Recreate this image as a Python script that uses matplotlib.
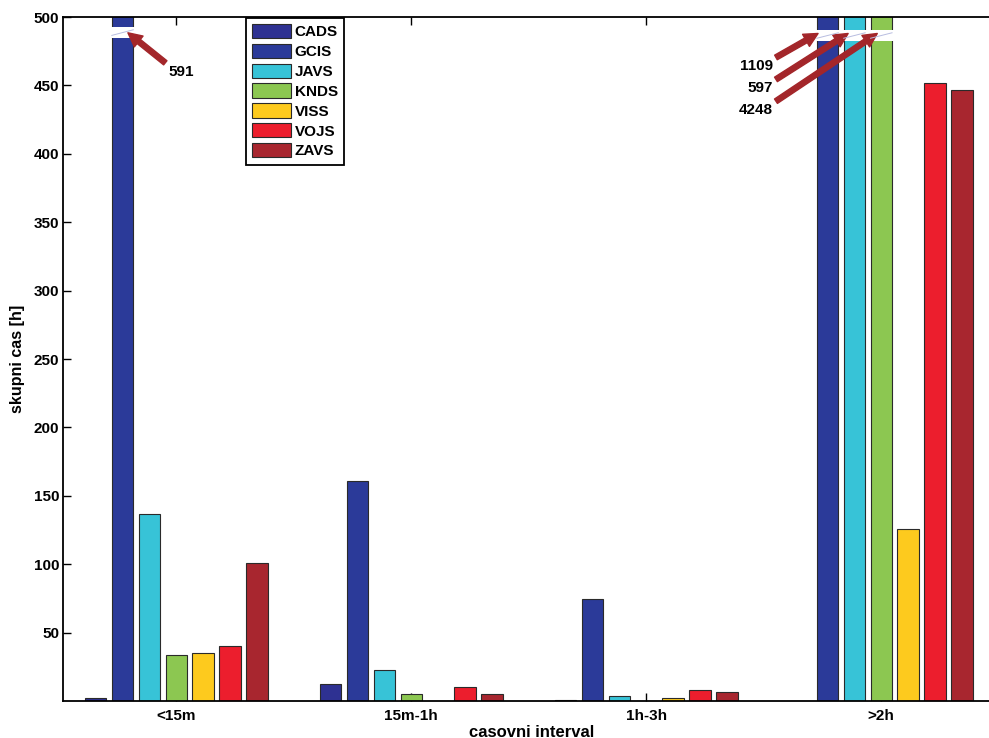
import numpy as np
import matplotlib.pyplot as plt
from matplotlib.patches import Rectangle

plt.rcParams['font.family'] = ['Liberation Sans', 'DejaVu Sans']
plt.rcParams['font.weight'] = 'bold'

groups = ['<15m', '15m-1h', '1h-3h', '>2h']
series = ['CADS', 'GCIS', 'JAVS', 'KNDS', 'VISS', 'VOJS', 'ZAVS']
colors = ['#2E3192', '#2B3A99', '#37C3D7', '#8CC751', '#FDCA1E', '#EC1E2D', '#A8262F']

# skupni cas [h] per group, one list per system
cads = [2.4, 12.8, 1.0, 0]
gcis = [591, 160.5, 74.5, 1109]
javs = [137, 23, 3.6, 597]
knds = [33.4, 5, 0, 4248]
viss = [35, 0, 2.0, 125.5]
vojs = [40, 10, 8, 451.5]
zavs = [100.8, 5.5, 6.3, 446.5]
values = [cads, gcis, javs, knds, viss, vojs, zavs]

ymax = 500
arrow_c = '#A3262A'

fig = plt.figure(figsize=(9.89, 7.38), dpi=100)
ax = fig.add_axes([0.0642, 0.0501, 0.9457, 0.9268])

x = np.arange(1, len(groups) + 1)
n = len(series)
step = 0.8 / n
width = 0.8 * step
for i, (name, vals, col) in enumerate(zip(series, values, colors)):
    off = (i - (n - 1) / 2) * step
    ax.bar(x + off, vals, width, color=col, edgecolor='#2a2a2a',
           linewidth=0.8, label=name, zorder=2)
    # break marks for bars that go off the chart
    for xi, v in zip(x, vals):
        if v > ymax:
            lo, hi = (484.6, 492.7) if xi == 1 else (482.5, 490.5)
            ax.add_patch(Rectangle((xi + off - width * 0.6, lo), width * 1.2, hi - lo,
                                   facecolor='white', edgecolor='none', zorder=3))
            ax.plot([xi + off - width / 2, xi + off + width / 2],
                    [lo + 2.0, hi - 2.0], color='#b8bde0', lw=0.7, zorder=4)

ax.set_xlim(0.52, 4.5)
ax.set_ylim(0, ymax)
ax.set_xticks(x)
ax.set_xticklabels(groups)
ax.set_yticks(np.arange(50, 501, 50))
ax.tick_params(direction='in', top=True, right=True, length=6, width=1,
               labelsize=11)
ax.tick_params(axis='x', pad=6)
ax.tick_params(axis='y', pad=3)
for sp in ax.spines.values():
    sp.set_linewidth(1.3)

ax.set_xlabel('casovni interval', fontsize=12, fontweight='bold', labelpad=1)
ax.set_ylabel('skupni cas [h]', fontsize=11.5, fontweight='bold', labelpad=6)

aprops = dict(facecolor=arrow_c, edgecolor=arrow_c, width=3.8, headwidth=10,
              headlength=10, shrink=0)
ax.annotate('591', xy=(0.794, 488.5), xytext=(0.965, 459.8), fontsize=11,
            fontweight='bold', ha='left', va='center', arrowprops=aprops)
labels_r = ['1109', '597', '4248']
heads_r = [3.731, 3.859, 3.983]
texts_y = [464.2, 448.0, 432.0]
for lab, hx, ty in zip(labels_r, heads_r, texts_y):
    ax.annotate(lab, xy=(hx, 488.0), xytext=(3.54, ty), fontsize=11,
                fontweight='bold', ha='right', va='center', arrowprops=aprops)

leg = ax.legend(loc='upper left', bbox_to_anchor=(0.195, 0.999), borderaxespad=0,
                fontsize=11, handlelength=2.55, handleheight=1.05,
                handletextpad=0.25, labelspacing=0.3, borderpad=0.4,
                fancybox=False, framealpha=1)
leg.get_frame().set_edgecolor('black')
leg.get_frame().set_linewidth(1.3)
leg.set_zorder(5)

fig.savefig('out.png', dpi=100)
